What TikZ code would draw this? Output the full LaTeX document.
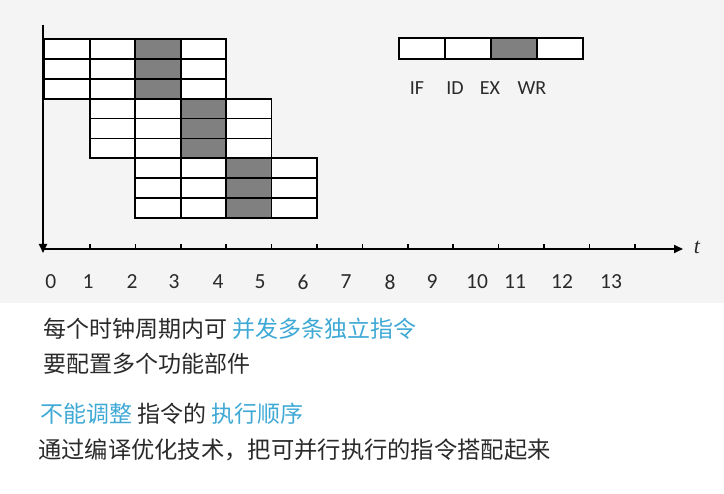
\documentclass[tikz,border=0pt]{standalone}
\usepackage{fontspec}
\setmainfont{Carlito}
\newfontfamily\cjk{Noto Sans CJK SC}
\newfontfamily\serifit{Liberation Serif}
\usetikzlibrary{arrows.meta}
\definecolor{bgtop}{HTML}{F4F4F4}
\definecolor{cellgray}{HTML}{808080}
\definecolor{hl}{HTML}{3FA9D6}
\definecolor{txt}{HTML}{2A2A2A}
\begin{document}
\begin{tikzpicture}[x=1pt,y=-1pt,
  cell/.style={draw=black,line width=1.8pt,fill=white,minimum width=45.4pt,minimum height=19.9pt,inner sep=0pt,outer sep=0pt},
  busy/.style={cell,fill=cellgray},
  lcell/.style={cell,minimum width=46pt,minimum height=21pt},
  lbusy/.style={lcell,fill=cellgray},
  axis/.style={line width=1.8pt,-{Triangle[length=9pt,width=8pt]}},
  tick/.style={line width=1.6pt},
  num/.style={font=\fontsize{21.5}{24}\selectfont,text=txt,inner sep=0pt},
  stage/.style={font=\fontsize{20}{24}\selectfont,text=txt,inner sep=0pt},
  line/.style={anchor=west,inner sep=0pt,text=txt,font=\cjk\fontsize{23}{27}\selectfont}]
\useasboundingbox (0,0) rectangle (724,494);
\fill[bgtop] (0,0) rectangle (724,303);
\fill[white] (0,303) rectangle (724,494);
% pipeline grid
\foreach \r in {0,...,8}{
  \pgfmathtruncatemacro{\g}{floor(\r/3)}
  \foreach \k in {0,...,3}{
    \pgfmathtruncatemacro{\c}{\g+\k}
    \ifnum\k=2
      \node[busy] (c-\r-\c) at ({44.5+45.4*(\c+0.5)},{39+19.9*(\r+0.5)}) {};
    \else
      \node[cell] (c-\r-\c) at ({44.5+45.4*(\c+0.5)},{39+19.9*(\r+0.5)}) {};
    \fi
  }
}
% axes
\coordinate (vtop) at (43,25);
\coordinate (vbot) at (43,253);
\coordinate (hleft) at (42,249);
\coordinate (hright) at (683,249);
\draw[axis] (vtop) -- (vbot);
\draw[axis] (hleft) -- (hright);
\foreach \k in {1,...,13}{
  \coordinate (tk\k) at ({44.5+45.4*\k},249);
  \draw[tick] (tk\k) -- ++(0,-5);
}
\node[font=\serifit\itshape\fontsize{22}{24}\selectfont,text=txt] (tlab) at (697,247) {t};
% tick labels
\foreach \v/\xx in {0/50.7,1/88,2/132,3/174,4/218,5/260,6/303,7/346,8/390,9/432,10/477,11/515,12/562,13/611}{
  \node[num] (n\v) at (\xx,282) {\v};
}
% legend
\node[lcell] (lg1) at (422,48.5) {};
\node[lcell] (lg2) at (468,48.5) {};
\node[lbusy] (lg3) at (514,48.5) {};
\node[lcell] (lg4) at (560,48.5) {};
\node[stage] (sIF) at (417,88) {IF};
\node[stage] (sID) at (455,88) {ID};
\node[stage] (sEX) at (490,88) {EX};
\node[stage] (sWR) at (532,88) {WR};
% text lines
\node[line] (l1) at (43,329) {每个时钟周期内可 \textcolor{hl}{并发多条独立指令}};
\node[line] (l2) at (43,364) {要配置多个功能部件};
\node[line] (l3) at (40,414) {\textcolor{hl}{不能调整} 指令的 \textcolor{hl}{执行顺序}};
\node[line,font=\cjk\fontsize{23.3}{27}\selectfont] (l4) at (38,450) {通过编译优化技术，把可并行执行的指令搭配起来};
\end{tikzpicture}
\end{document}
